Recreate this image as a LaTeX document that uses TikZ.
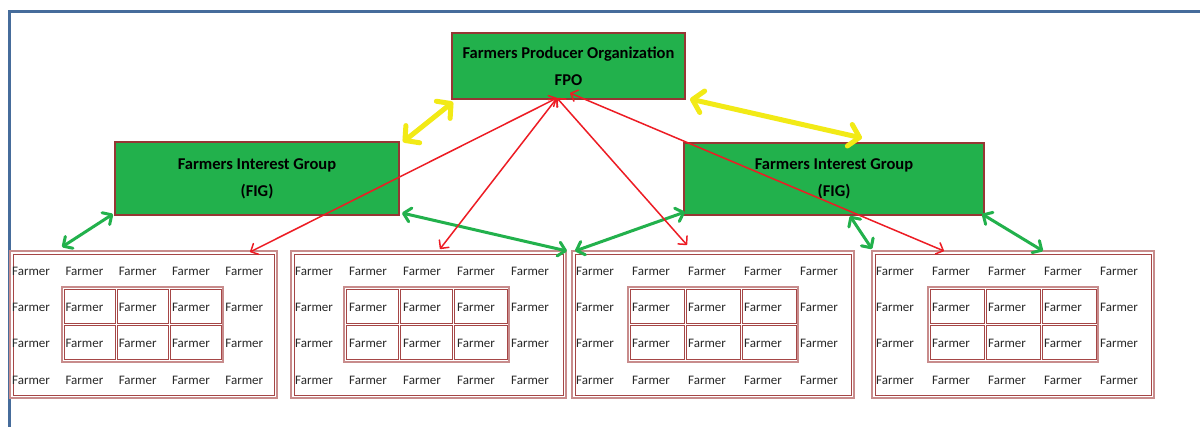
\documentclass[tikz,border=0pt]{standalone}
\usepackage{fontspec}
\setmainfont{Carlito}
\usetikzlibrary{arrows.meta,calc}
\definecolor{figgreen}{RGB}{34,177,76}
\definecolor{boxborder}{RGB}{150,54,52}
\definecolor{pinkline}{RGB}{200,140,140}
\definecolor{cellline}{RGB}{165,70,70}
\definecolor{arryellow}{RGB}{242,234,22}
\definecolor{arrgreen}{RGB}{34,177,76}
\definecolor{arrred}{RGB}{237,28,36}
\definecolor{frameblue}{RGB}{70,108,155}
\definecolor{farmertext}{RGB}{40,40,40}
\begin{document}
\begin{tikzpicture}[x=1pt,y=-1pt,
  grp/.style={draw=boxborder, line width=1.4pt, fill=figgreen, inner sep=0pt, outer sep=0pt,
    align=center, font=\bfseries\fontsize{16.5}{27}\selectfont},
  farmbox/.style={draw=pinkline, line width=2pt, inner sep=0pt, outer sep=0pt, minimum height=147pt},
  innerline/.style={draw=cellline, line width=0.8pt},
  gridline/.style={draw=pinkline, line width=1.5pt},
  farmer/.style={anchor=west, inner sep=0pt, text=farmertext, font=\fontsize{13}{15}\selectfont},
  yarr/.style={draw=arryellow, line width=5pt, line cap=round,
    {Straight Barb[length=10pt,width=22pt,round]}-{Straight Barb[length=10pt,width=22pt,round]}},
  garr/.style={draw=arrgreen, line width=3pt, line cap=round,
    {Straight Barb[length=7pt,width=14pt,round]}-{Straight Barb[length=7pt,width=14pt,round]}},
  rarr/.style={draw=arrred, line width=1.5pt, line cap=round,
    {Straight Barb[length=6pt,width=12pt,round]}-{Straight Barb[length=6pt,width=12pt,round]}},
  frame/.style={draw=frameblue, line width=3pt}
]
\useasboundingbox (0,0) rectangle (1200,426);
\fill[white] (0,0) rectangle (1200,426);
% blue frame
\draw[frame] (9,427) -- (9,11) -- (1201,11);

% top-level boxes
\node[grp, minimum width=233pt, minimum height=66pt] (fpo) at (568.5,66) {Farmers Producer Organization\\FPO};
\node[grp, minimum width=284pt, minimum height=73pt] (fig1) at (257,178.5) {Farmers Interest Group\\(FIG)};
\node[grp, minimum width=300pt, minimum height=72pt] (fig2) at (834,179) {Farmers Interest Group\\(FIG)};

% farmer boxes
\foreach \n/\l/\r/\c/\p/\gl/\gr in {b1/10/277/12/53.3/62/223, b2/291/566/295/54/344/509, b3/572/854/576/56/628/798, b4/872/1154/876/56/928/1098}{
  \pgfmathsetmacro\w{\r-\l}
  \pgfmathsetmacro\cx{(\l+\r)/2}
  \node[farmbox, minimum width=\w pt] (\n) at (\cx,324.5) {};
  \draw[innerline] ($(\n.north west)+(3,3)$) rectangle ($(\n.south east)+(-3,-3)$);
  % inner grid
  \draw[gridline] (\gl,287) rectangle (\gr,362);
  \pgfmathsetmacro\cw{(\gr-\gl-8)/3}
  \foreach \k in {0,1,2}{
    \foreach \yt/\yb in {289.5/323.5, 325.5/359.5}{
      \pgfmathsetmacro\xa{\gl+2+\k*(\cw+2)}
      \pgfmathsetmacro\xb{\xa+\cw}
      \draw[innerline] (\xa,\yt) rectangle (\xb,\yb);
    }
  }
  \foreach \i in {0,...,4}{
    \foreach \j/\yy in {0/271,1/307,2/343,3/380}{
      \pgfmathsetmacro\xx{\c+\i*\p}
      \node[farmer] (\n-\i-\j) at (\xx,\yy) {Farmer};
    }
  }
}

% yellow arrows
\draw[yarr] ($(fig1.north east)+(4,0)$) -- ($(fpo.south west)+(1,3)$);
\draw[yarr] ($(fpo.south east)+(5,0)$) -- ($(fig2.north west)+(178,-5)$);

% green arrows
\draw[garr] ($(b1.north west)+(52,-4)$) -- ($(fig1.south west)+(-2,-1)$);
\draw[garr] ($(fig1.south east)+(3,-2)$) -- ($(b2.north east)+(1,0)$);
\draw[garr] ($(fig2.south west)+(1,-3)$) -- ($(b3.north west)+(3,0)$);
\draw[garr] ($(fig2.south west)+(166,1)$) -- ($(b4.north west)+(0,-2)$);
\draw[garr] ($(fig2.south east)+(-2,-1)$) -- ($(b4.north west)+(171,0)$);

% red arrows
\coordinate (p1) at ($(fpo.south west)+(105,-1)$);
\coordinate (p2) at ($(fpo.south west)+(118,-6)$);
\draw[rarr] (p1) -- ($(b1.north west)+(240,1)$);
\draw[rarr] (p1) -- ($(b2.north west)+(149,-2)$);
\draw[rarr] (p1) -- ($(b3.north west)+(115,-6)$);
\draw[rarr] (p2) -- ($(b4.north west)+(72,0)$);
\end{tikzpicture}
\end{document}
